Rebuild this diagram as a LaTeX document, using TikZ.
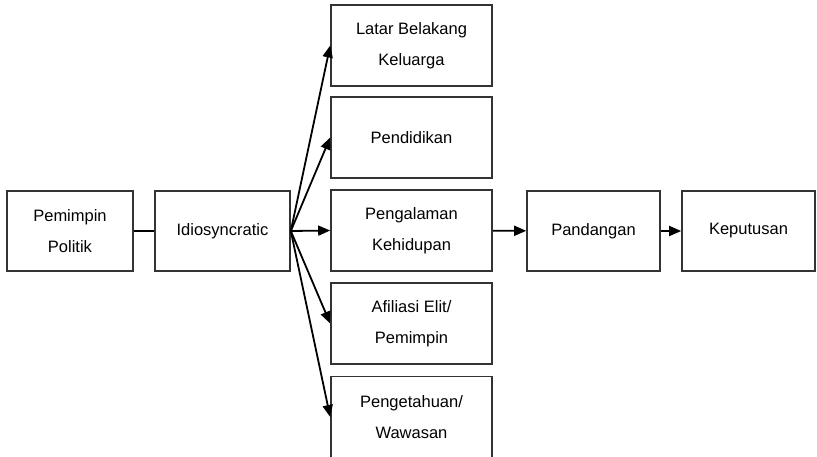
\documentclass[tikz,border=0pt]{standalone}
\usepackage{fontspec}
\setmainfont{Liberation Sans}
\usetikzlibrary{arrows.meta,positioning}
\tikzstyle{FactorBox} =[draw=black!80,line width=1.6pt,rectangle,minimum height=80pt,align=center,inner sep=0pt,font=\fontsize{16.5}{31}\selectfont]
\tikzstyle{InfluenceBox} =[FactorBox,minimum width=161pt,minimum height=81pt]
\tikzstyle{FlowArrow} =[-{Triangle[length=12pt,width=10pt]},line width=1.8pt]
\begin{document}
\begin{tikzpicture}[x=1pt,y=-1pt,node distance=93pt,on grid]
    \useasboundingbox (0,0) rectangle (817,457);
    \node[FactorBox,minimum width=126pt](Pemimpin-Politik) at (70,231){Pemimpin\\Politik};
    \node[FactorBox,minimum width=135pt,right=152.5pt of Pemimpin-Politik](Idiosyncratic){Idiosyncratic};

    \node[InfluenceBox,right=189pt of Idiosyncratic,yshift=0.5pt](Pengalaman-Kehidupan){Pengalaman\\Kehidupan};
    \node[InfluenceBox,above= of Pengalaman-Kehidupan](Pendidikan){Pendidikan};
    \node[InfluenceBox,above=92pt of Pendidikan](Latar-Belakang-Keluarga){Latar Belakang\\Keluarga};
    \node[InfluenceBox,below= of Pengalaman-Kehidupan](Afiliasi-Elit){Afiliasi Elit/\\Pemimpin};
    \node[InfluenceBox,below=93.5pt of Afiliasi-Elit](Pengetahuan-Wawasan){Pengetahuan/\\Wawasan};

    \node[FactorBox,minimum width=133pt,right=182pt of Pengalaman-Kehidupan,yshift=-0.5pt](Pandangan){Pandangan};
    \node[FactorBox,minimum width=133pt,right=155pt of Pandangan](Keputusan){Keputusan};

    \draw[line width=1.8pt] (Pemimpin-Politik) -- (Idiosyncratic);
    \draw[FlowArrow] (Idiosyncratic.east) -- (Latar-Belakang-Keluarga.west);
    \draw[FlowArrow] (Idiosyncratic.east) -- (Pendidikan.west);
    \draw[FlowArrow] (Idiosyncratic.east) -- (Pengalaman-Kehidupan.west);
    \draw[FlowArrow] (Idiosyncratic.east) -- (Afiliasi-Elit.west);
    \draw[FlowArrow] (Idiosyncratic.east) -- (Pengetahuan-Wawasan.west);
    \draw[FlowArrow] (Pengalaman-Kehidupan) -- (Pandangan);
    \draw[FlowArrow] (Pandangan) -- (Keputusan);
\end{tikzpicture}
\end{document}
